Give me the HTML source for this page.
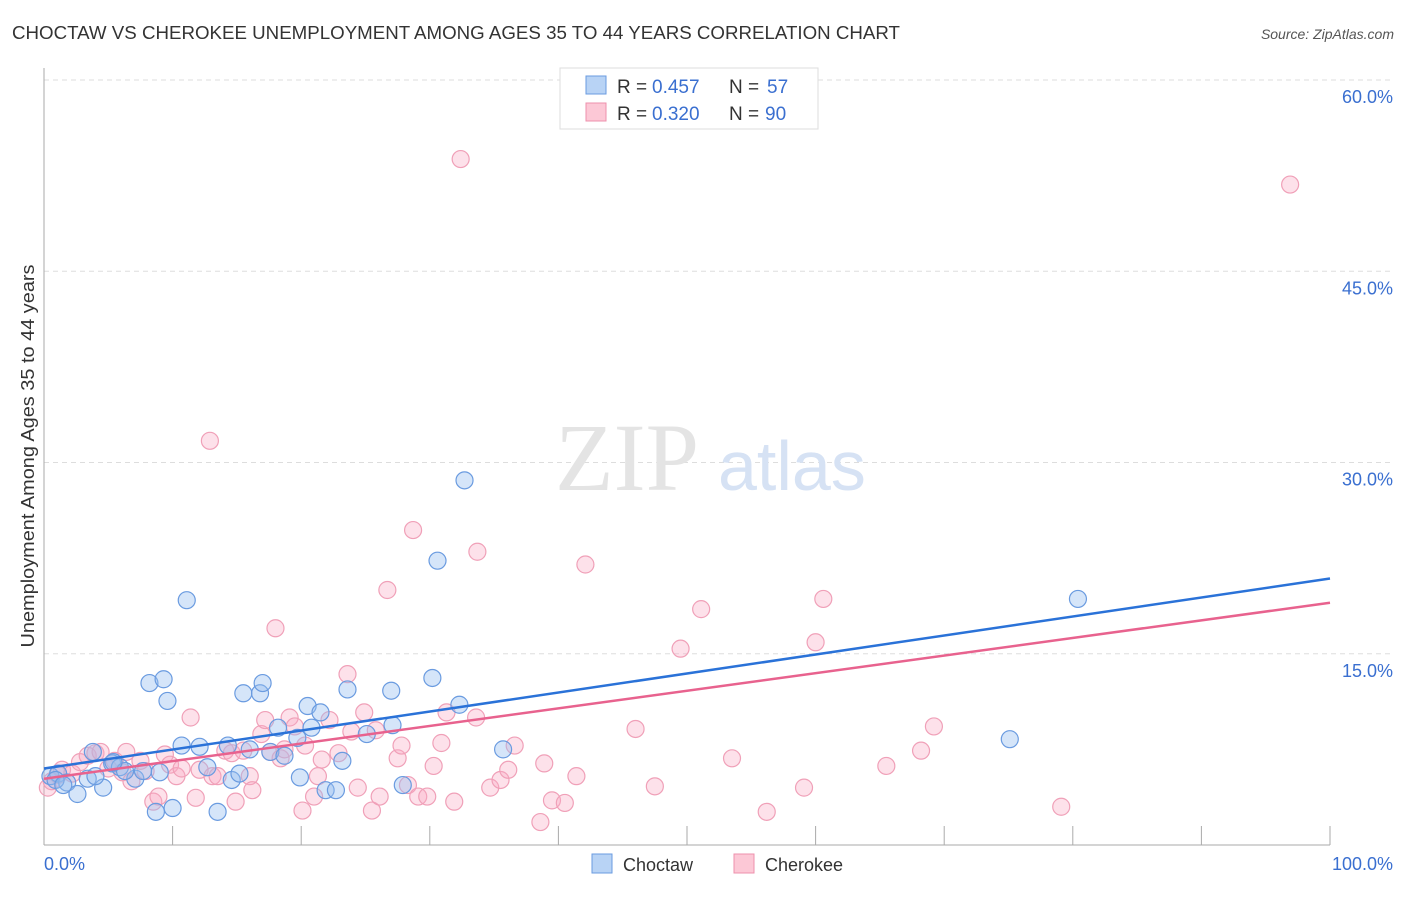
<!DOCTYPE html>
<html><head><meta charset="utf-8"><style>
body{margin:0;background:#fff;font-family:"Liberation Sans",sans-serif;}
</style></head><body>
<svg width="1406" height="892" xmlns="http://www.w3.org/2000/svg">
<text x="12" y="39" font-size="18" fill="#333" textLength="888" lengthAdjust="spacingAndGlyphs">CHOCTAW VS CHEROKEE UNEMPLOYMENT AMONG AGES 35 TO 44 YEARS CORRELATION CHART</text>
<text x="1394" y="39" font-size="14" fill="#555" font-style="italic" text-anchor="end">Source: ZipAtlas.com</text>
<g id="grid"></g>
<g id="wm"><text x="555" y="490" font-size="96" fill="#e4e4e4" font-family="Liberation Serif,serif">ZIP</text><text x="718" y="490" font-size="70" fill="#d6e2f4">atlas</text></g>
<g id="axes"></g>
<g id="pts"></g>
<g id="lines"></g>
<text transform="translate(34,456) rotate(-90)" font-size="18" fill="#333" text-anchor="middle" textLength="383" lengthAdjust="spacingAndGlyphs">Unemployment Among Ages 35 to 44 years</text>
<g>
<rect x="560" y="68" width="258" height="61" fill="#fff" stroke="#ddd"/>
<rect x="586" y="76" width="20" height="18" fill="#b8d3f5" stroke="#6a9be0"/>
<rect x="586" y="103" width="20" height="18" fill="#fcc8d6" stroke="#ee90ac"/>
<text x="617" y="93" font-size="19" fill="#333">R =</text><text x="652" y="93" font-size="19" fill="#3a6fd0">0.457</text>
<text x="729" y="93" font-size="19" fill="#333">N =</text><text x="767" y="93" font-size="19" fill="#3a6fd0">57</text>
<text x="617" y="120" font-size="19" fill="#333">R =</text><text x="652" y="120" font-size="19" fill="#3a6fd0">0.320</text>
<text x="729" y="120" font-size="19" fill="#333">N =</text><text x="765" y="120" font-size="19" fill="#3a6fd0">90</text>
</g>
<g>
<rect x="592" y="854" width="20" height="19" fill="#b8d3f5" stroke="#6a9be0"/>
<text x="623" y="871" font-size="18" fill="#333">Choctaw</text>
<rect x="734" y="854" width="20" height="19" fill="#fcc8d6" stroke="#ee90ac"/>
<text x="765" y="871" font-size="18" fill="#333">Cherokee</text>
</g>
</svg>
<script>
const yTicks=[15,30,45,60];
const xTickCount=10;
const blueX=[0.5,1.1,1.8,2.6,3.4,4.6,5.3,5.9,7.1,7.7,8.2,8.7,9.3,9.6,10,10.7,11.1,12.1,12.7,13.5,14.3,14.6,15.2,15.5,16,16.8,17,17.6,18.2,18.7,19.7,19.9,20.5,20.8,21.5,21.9,22.7,23.2,23.6,25.1,27,27.1,27.9,30.2,30.6,32.3,32.7,35.7,75.1,80.4,0.9,4,6.3,9,3.8,5.4,1.5];
const blueY=[5.4,5.6,4.9,4,5.2,4.5,6.4,6.1,5.2,5.8,12.7,2.6,13,11.3,2.9,7.8,19.2,7.7,6.1,2.6,7.8,5.1,5.6,11.9,7.5,11.9,12.7,7.3,9.2,7,8.4,5.3,10.9,9.2,10.4,4.3,4.3,6.6,12.2,8.7,12.1,9.4,4.7,13.1,22.3,11,28.6,7.5,8.3,19.3,5.1,5.4,5.8,5.7,7.3,6.5,4.7];
const pinkX=[0.3,0.6,1.1,1.4,2.2,2.8,3.4,4,4.4,5,5.5,6.1,6.4,6.8,7.5,7.9,8.5,8.9,9.4,9.8,10.3,10.7,11.4,11.8,12.1,12.9,13.1,13.5,14.1,14.6,14.9,15.5,16,16.2,16.9,17.2,17.6,18,18.4,18.7,19.1,19.5,20.1,20.3,21,21.3,21.6,22.2,22.9,23.6,23.9,24.4,24.9,25.5,25.8,26.1,26.7,27.5,27.8,28.3,28.7,29.1,29.8,30.3,30.9,31.3,31.9,32.4,33.6,33.7,34.7,35.5,36.1,36.6,38.6,38.9,39.5,40.5,41.4,42.1,46,47.5,49.5,51.1,53.5,56.2,59.1,60,60.6,65.5,68.2,69.2,79.1,96.9];
const pinkY=[4.5,5.0,5.5,5.9,5.6,6.5,7,7.2,7.3,6.0,6.6,5.7,7.3,5.0,6.6,5.8,3.4,3.8,7.1,6.3,5.4,6.0,10,3.7,5.9,31.7,5.4,5.4,7.4,7.2,3.4,7.4,5.4,4.3,8.7,9.8,7.3,17.0,6.8,7.5,10,9.3,2.7,7.8,3.8,5.4,6.7,9.8,7.2,13.4,8.9,4.5,10.4,2.7,9,3.8,20,6.8,7.8,4.7,24.7,3.8,3.8,6.2,8,10.4,3.4,53.8,10,23,4.5,5.1,5.9,7.8,1.8,6.4,3.5,3.3,5.4,22,9.1,4.6,15.4,18.5,6.8,2.6,4.5,15.9,19.3,6.2,7.4,9.3,3,51.8];
const blueLine=[6.0,20.9];
const pinkLine=[5.2,19.0];
const X0=44,X1=1330,Y0=845,Ypx60=80;
const sx=v=>X0+(X1-X0)*v/100, sy=v=>Y0-(Y0-Ypx60)*v/60;
const NS='http://www.w3.org/2000/svg';
function mk(t,a,p){const e=document.createElementNS(NS,t);for(const k in a)e.setAttribute(k,a[k]);p.appendChild(e);return e;}
const grid=document.getElementById('grid'),axes=document.getElementById('axes'),pts=document.getElementById('pts'),lines=document.getElementById('lines');
yTicks.forEach(t=>{const l=mk('line',{x1:X0,x2:1392,y1:sy(t),y2:sy(t),stroke:'#ddd','stroke-dasharray':'5,4'},grid);


const tx=mk('text',{x:1393,y:sy(t)+23,'font-size':18,fill:'#3a6fd0','text-anchor':'end'},axes);tx.textContent=t.toFixed(1)+'%';

});
mk('line',{x1:X0,x2:X0,y1:68,y2:Y0,stroke:'#aaa'},axes);
mk('line',{x1:X0,x2:X1,y1:Y0,y2:Y0,stroke:'#aaa'},axes);
for(let i=1;i<=xTickCount;i++){const t=mk('line',{x1:sx(i*10),x2:sx(i*10),y1:826,y2:Y0,stroke:'#aaa'},axes);

}
const xl=mk('text',{x:44,y:870,'font-size':18,fill:'#3a6fd0'},axes);xl.textContent='0.0%';


const xr=mk('text',{x:1393,y:870,'font-size':18,fill:'#3a6fd0','text-anchor':'end'},axes);xr.textContent='100.0%';


pinkX.forEach((x,i)=>{const c=mk('circle',{cx:sx(x),cy:sy(pinkY[i]),r:8.5,fill:'rgba(248,170,195,0.35)',stroke:'#f0a0b8','stroke-width':1.2},pts);

});
blueX.forEach((x,i)=>{const c=mk('circle',{cx:sx(x),cy:sy(blueY[i]),r:8.5,fill:'rgba(150,190,240,0.4)',stroke:'#6a9be0','stroke-width':1.2},pts);

});
const bl=mk('line',{x1:sx(0),x2:sx(100),y1:sy(blueLine[0]),y2:sy(blueLine[1]),stroke:'#2a72d8','stroke-width':2.5},lines);


const pl=mk('line',{x1:sx(0),x2:sx(100),y1:sy(pinkLine[0]),y2:sy(pinkLine[1]),stroke:'#e8628e','stroke-width':2.5},lines);


</script>
</body></html>
